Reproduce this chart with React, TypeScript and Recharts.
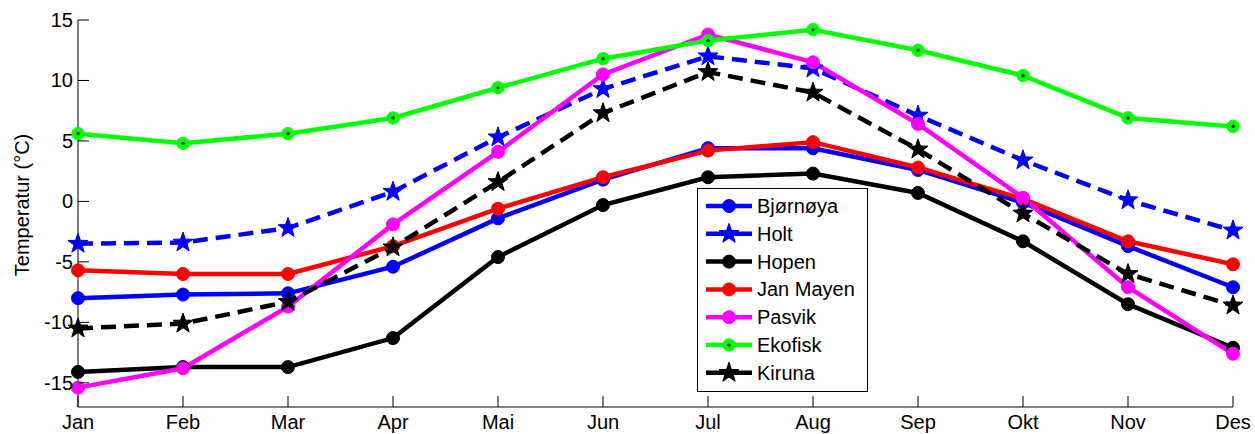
import { LineChart, Line, XAxis, YAxis, Legend } from "recharts";

// monthly mean temperatures (°C) per station
const MONTHS = ["Jan", "Feb", "Mar", "Apr", "Mai", "Jun", "Jul", "Aug", "Sep", "Okt", "Nov", "Des"];
const BJORNOYA = [-8.0, -7.7, -7.6, -5.4, -1.4, 1.8, 4.4, 4.4, 2.6, -0.1, -3.7, -7.1];
const HOLT = [-3.5, -3.4, -2.2, 0.8, 5.3, 9.3, 12.0, 11.0, 7.1, 3.4, 0.1, -2.4];
const HOPEN = [-14.1, -13.7, -13.7, -11.3, -4.6, -0.3, 2.0, 2.3, 0.7, -3.3, -8.5, -12.1];
const JAN_MAYEN = [-5.7, -6.0, -6.0, -3.7, -0.6, 2.0, 4.2, 4.9, 2.8, 0.2, -3.3, -5.2];
const PASVIK = [-15.4, -13.8, -8.7, -1.9, 4.1, 10.5, 13.8, 11.5, 6.4, 0.3, -7.1, -12.6];
const EKOFISK = [5.6, 4.8, 5.6, 6.9, 9.4, 11.8, 13.3, 14.2, 12.5, 10.4, 6.9, 6.2];
const KIRUNA = [-10.5, -10.1, -8.3, -3.8, 1.6, 7.3, 10.7, 9.0, 4.3, -1.0, -6.0, -8.6];

const Y_TICKS = [-15, -10, -5, 0, 5, 10, 15];
const X_TICKS = MONTHS.map((_, i) => i);

type Marker = "circle" | "star" | "dotted";
const SERIES: { key: string; name: string; values: number[]; color: string; dash?: string; marker: Marker }[] = [
  { key: "bjornoya", name: "Bjørnøya", values: BJORNOYA, color: "#0000ff", marker: "circle" },
  { key: "holt", name: "Holt", values: HOLT, color: "#0000ff", dash: "15 8", marker: "star" },
  { key: "hopen", name: "Hopen", values: HOPEN, color: "#000000", marker: "circle" },
  { key: "janmayen", name: "Jan Mayen", values: JAN_MAYEN, color: "#ff0000", marker: "circle" },
  { key: "pasvik", name: "Pasvik", values: PASVIK, color: "#ff00ff", marker: "circle" },
  { key: "ekofisk", name: "Ekofisk", values: EKOFISK, color: "#00ff00", marker: "dotted" },
  { key: "kiruna", name: "Kiruna", values: KIRUNA, color: "#000000", dash: "15 8", marker: "star" },
];

const W = 1255;
const H = 434;
const LEFT = 78;
const RIGHT = 1233;
const TOP = 20;
const BOTTOM = 407;
const TICK = 11;
const FONT = "'Liberation Sans', Arial, sans-serif";
const LW = 4.5;
const LABEL_X = 29;
const LABEL_Y = 205;

const data = MONTHS.map((m, i) => {
  const row: Record<string, number | string> = { i, month: m };
  SERIES.forEach((s) => (row[s.key] = s.values[i]));
  return row;
});

function starPoints(cx: number, cy: number, ro: number, ri: number) {
  const pts: string[] = [];
  for (let k = 0; k < 10; k++) {
    const r = k % 2 === 0 ? ro : ri;
    const a = -Math.PI / 2 + (k * Math.PI) / 5;
    pts.push(`${cx + r * Math.cos(a)},${cy + r * Math.sin(a)}`);
  }
  return pts.join(" ");
}

function MarkerShape({ cx, cy, color, marker }: { cx: number; cy: number; color: string; marker: Marker }) {
  if (marker === "star") {
    return <polygon points={starPoints(cx, cy, 10.5, 4.2)} fill={color} stroke={color} strokeWidth={1} />;
  }
  if (marker === "dotted") {
    return (
      <g>
        <circle cx={cx} cy={cy} r={6.2} fill={color} stroke={color} strokeWidth={1} />
        <circle cx={cx} cy={cy} r={1.6} fill="#000" />
      </g>
    );
  }
  return <circle cx={cx} cy={cy} r={6.5} fill={color} stroke={color} strokeWidth={1} />;
}

const bottomTick = (p: any) => (
  <g>
    <line x1={p.x} x2={p.x} y1={BOTTOM} y2={BOTTOM - TICK} stroke="#000" />
    <text x={p.x} y={BOTTOM + 22} textAnchor="middle" fontFamily={FONT} fontSize={20} fill="#000">
      {MONTHS[p.payload.value]}
    </text>
  </g>
);

const topTick = (p: any) => <line x1={p.x} x2={p.x} y1={TOP} y2={TOP + TICK} stroke="#000" />;

const leftTick = (p: any) => (
  <g>
    <line x1={LEFT} x2={LEFT + TICK} y1={p.y} y2={p.y} stroke="#000" />
    <text x={LEFT - 5} y={p.y + 7} textAnchor="end" fontFamily={FONT} fontSize={20} fill="#000">
      {p.payload.value}
    </text>
  </g>
);

const rightTick = (p: any) => <line x1={RIGHT} x2={RIGHT - TICK} y1={p.y} y2={p.y} stroke="#000" />;

function LegendBox() {
  const rowH = 27.8;
  return (
    <svg width={171} height={204} style={{ display: "block" }}>
      <rect x={0.5} y={0.5} width={170} height={203} fill="#fff" stroke="#000" />
      {SERIES.map((s, k) => {
        const y = 18 + k * rowH;
        return (
          <g key={s.key}>
            <line x1={9} x2={55} y1={y} y2={y} stroke={s.color} strokeWidth={LW} />
            <MarkerShape cx={32} cy={y} color={s.color} marker={s.marker} />
            <text x={60} y={y + 7} fontFamily={FONT} fontSize={20} fill="#000">
              {s.name}
            </text>
          </g>
        );
      })}
    </svg>
  );
}

export default function App() {
  return (
    <div style={{ position: "absolute", left: 0, top: 0, width: W, height: H, background: "#fff" }}>
      <LineChart width={W} height={H} data={data} margin={{ top: TOP, right: W - RIGHT, bottom: 0, left: 0 }}>
        <XAxis dataKey="i" type="number" domain={[0, 11]} ticks={X_TICKS} interval={0}
          height={H - BOTTOM} tickLine={false} axisLine={{ stroke: "#000" }} tick={bottomTick} />
        <XAxis xAxisId="top" orientation="top" dataKey="i" type="number" domain={[0, 11]} ticks={X_TICKS}
          interval={0} height={0} tickLine={false} axisLine={{ stroke: "#000" }} tick={topTick} />
        <YAxis type="number" domain={[-17, 15]} ticks={Y_TICKS} interval={0} width={LEFT}
          tickLine={false} axisLine={{ stroke: "#000" }} tick={leftTick}
          label={() => (
            <text x={LABEL_X} y={LABEL_Y} transform={`rotate(-90 ${LABEL_X} ${LABEL_Y})`}
              textAnchor="middle" fontFamily={FONT} fontSize={20} fill="#000">
              Temperatur (°C)
            </text>
          )} />
        <YAxis yAxisId="right" orientation="right" type="number" domain={[-17, 15]} ticks={Y_TICKS}
          interval={0} width={0} tickLine={false} axisLine={{ stroke: "#000" }} tick={rightTick} />
        {SERIES.map((s) => (
          <Line key={s.key} dataKey={s.key} name={s.name} stroke={s.color} strokeWidth={LW}
            strokeDasharray={s.dash} isAnimationActive={false}
            dot={(p: any) => <MarkerShape key={`${s.key}-${p.index}`} cx={p.cx} cy={p.cy} color={s.color} marker={s.marker} />} />
        ))}
        <Legend layout="horizontal" verticalAlign="middle" align="center" content={() => <LegendBox />}
          wrapperStyle={{ left: 697, top: 188, width: 171, height: 204 }} />
      </LineChart>
    </div>
  );
}
